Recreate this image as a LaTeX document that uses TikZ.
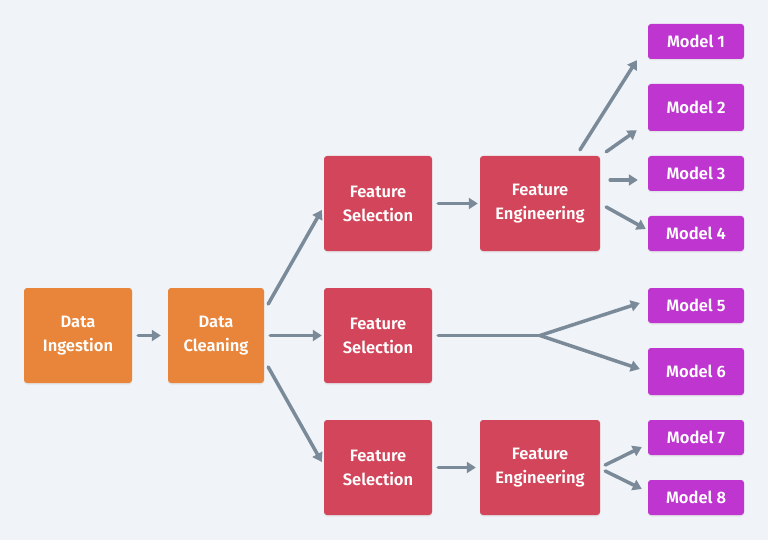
\documentclass[tikz,border=0pt]{standalone}
\usepackage{fontspec}
\setmainfont{Fira Sans}[UprightFont=* SemiBold, BoldFont=* Bold]
\usetikzlibrary{arrows.meta,calc,shadows}
\definecolor{bgc}{HTML}{F0F3F7}
\definecolor{orangec}{HTML}{E8853A}
\definecolor{redc}{HTML}{D3455A}
\definecolor{purplec}{HTML}{BE35D0}
\definecolor{linec}{HTML}{7A8A99}
\tikzset{
  box/.style={rounded corners=3pt, inner sep=0pt, align=center, text=white,
    font=\fontsize{16.5}{24}\selectfont,
    drop shadow={opacity=0.12, shadow xshift=0pt, shadow yshift=-1.5pt}},
  srcbox/.style={box, fill=orangec, minimum height=95pt},
  fsbox/.style={box, fill=redc, minimum width=108pt, minimum height=95pt},
  febox/.style={box, fill=redc, minimum width=120pt, minimum height=95pt},
  modelbox/.style={box, fill=purplec, minimum width=96pt, minimum height=35pt},
  modeltall/.style={modelbox, minimum height=47pt},
  conn/.style={draw=linec, line width=3.5pt, line cap=round, -{Triangle[length=9pt,width=11pt]}},
  plain/.style={draw=linec, line width=3.5pt, line cap=round}
}
\begin{document}
\begin{tikzpicture}[x=1pt,y=-1pt]
\fill[bgc] (0,0) rectangle (768,540);
\useasboundingbox (0,0) rectangle (768,540);

\node[srcbox, minimum width=108pt] (di) at (78,335.5) {Data\\Ingestion};
\node[srcbox, minimum width=96pt] (dc) at (216,335.5) {Data\\Cleaning};
\node[fsbox] (fs1) at (378,203.5) {Feature\\Selection};
\node[fsbox] (fs2) at (378,335.5) {Feature\\Selection};
\node[fsbox] (fs3) at (378,467.5) {Feature\\Selection};
\node[febox] (fe1) at (540,203.5) {Feature\\Engineering};
\node[febox] (fe3) at (540,467.5) {Feature\\Engineering};
\node[modelbox] (m1) at (696,41.5) {Model 1};
\node[modeltall] (m2) at (696,107.5) {Model 2};
\node[modelbox] (m3) at (696,173.5) {Model 3};
\node[modelbox] (m4) at (696,233.5) {Model 4};
\node[modelbox] (m5) at (696,305.5) {Model 5};
\node[modeltall] (m6) at (696,371.5) {Model 6};
\node[modelbox] (m7) at (696,437.5) {Model 7};
\node[modelbox] (m8) at (696,497.5) {Model 8};
\coordinate (split) at (540,335.5);

\draw[conn] ($(di.east)+(6,0)$) -- ($(dc.west)+(-7,0)$);
\draw[conn] ($(dc.east)+(4,-31.5)$) -- ($(fs1.west)+(-2,6.5)$);
\draw[conn] ($(dc.east)+(6,0)$) -- ($(fs2.west)+(-2,0)$);
\draw[conn] ($(dc.east)+(4,31.5)$) -- ($(fs3.west)+(-2,-5.5)$);
\draw[conn] ($(fs1.east)+(6,0)$) -- ($(fe1.west)+(-2,0)$);
\draw[conn] ($(fs3.east)+(6,0)$) -- ($(fe3.west)+(-4,0)$);

\draw[conn] ($(fe1.north)+(40,-6)$) -- ($(m1.south west)+(-11,1)$);
\draw[conn] ($(fe1.north east)+(6,-4)$) -- ($(m2.south west)+(-11,-1)$);
\draw[conn] ($(fe1.east)+(10,-23.5)$) -- ($(m3.west)+(-10,6.5)$);
\draw[conn] ($(fe1.east)+(6,3.5)$) -- ($(m4.west)+(-2,-4.5)$);

\draw[plain] ($(fs2.east)+(6,0)$) -- (split);
\draw[conn] (split) -- ($(m5.west)+(-8,-2.5)$);
\draw[conn] (split) -- ($(m6.west)+(-8,-2.5)$);

\draw[conn] ($(fe3.east)+(5,-2.5)$) -- ($(m7.west)+(-6,9.5)$);
\draw[conn] ($(fe3.east)+(5,3.5)$) -- ($(m8.west)+(-6,-8.5)$);
\end{tikzpicture}
\end{document}
